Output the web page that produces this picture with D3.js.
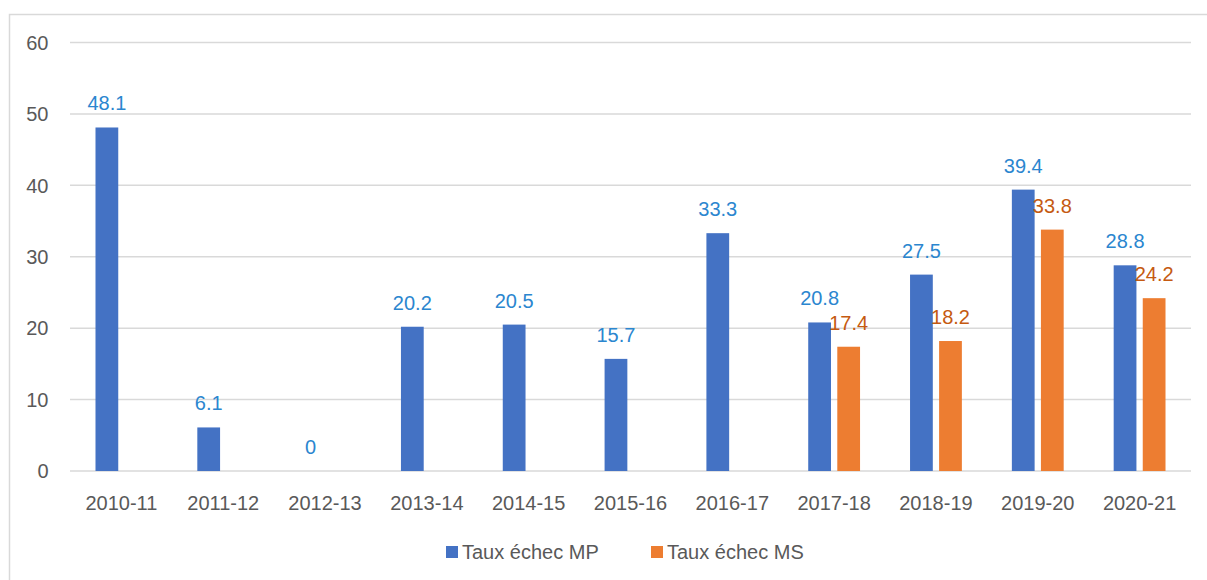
<!DOCTYPE html>
<html>
<head>
<meta charset="utf-8">
<script src="https://cdn.jsdelivr.net/npm/d3@7"></script>
<style>
  body { margin: 0; background: #fff; }
  text { font-family: "Liberation Sans", Arial, sans-serif; }
</style>
</head>
<body>
<div id="chart"></div>
<script>
// Data
let years = ["2010-11","2011-12","2012-13","2013-14","2014-15","2015-16","2016-17","2017-18","2018-19","2019-20","2020-21"];
let seriesNames = ["Taux échec MP", "Taux échec MS"];
let valuesMP = [48.1, 6.1, 0, 20.2, 20.5, 15.7, 33.3, 20.8, 27.5, 39.4, 28.8];
let valuesMS = [null, null, null, null, null, null, null, 17.4, 18.2, 33.8, 24.2];
let yTicks = [0, 10, 20, 30, 40, 50, 60];

// svg attributes
let svgWidth = 1207;
let svgHeight = 580;
let colors = ["#4472c4", "#ed7d31"];
let labelColors = ["#2b86cf", "#c55a11"];

let svg = d3.select("#chart")
  .append("svg")
  .attr("width", svgWidth)
  .attr("height", svgHeight);

svg.append("rect")
  .attr("width", svgWidth).attr("height", svgHeight)
  .attr("fill", "#fff");

// outer chart border (runs off the right / bottom edge)
svg.append("rect")
  .attr("x", 9.5).attr("y", 14.5)
  .attr("width", 1220).attr("height", 620)
  .attr("fill", "none")
  .attr("stroke", "#d9d9d9")
  .attr("stroke-width", 1.5);

// scales
let x = d3.scaleBand()
  .domain(years)
  .range([70.5, 1190.5]);

let xSub = d3.scaleBand()
  .domain([0, 1])
  .range([0, x.bandwidth()])
  .paddingInner(0.217)
  .paddingOuter(0.86);

let y = d3.scaleLinear()
  .domain([0, 60])
  .range([471, 42.5]);

// gridlines
svg.append("g")
  .selectAll("line")
  .data(yTicks)
  .enter()
  .append("line")
  .attr("x1", 70).attr("x2", 1191)
  .attr("y1", d => y(d)).attr("y2", d => y(d))
  .attr("stroke", "#d9d9d9")
  .attr("stroke-width", 1.5);

// y-axis labels
svg.append("g")
  .selectAll("text")
  .data(yTicks)
  .enter()
  .append("text")
  .attr("x", 48.5)
  .attr("y", d => y(d))
  .attr("dy", "0.36em")
  .attr("text-anchor", "end")
  .attr("font-size", 20)
  .attr("fill", "#595959")
  .text(d => d);

// category labels
svg.append("g")
  .selectAll("text")
  .data(years)
  .enter()
  .append("text")
  .attr("x", d => x(d) + x.bandwidth() / 2)
  .attr("y", 510)
  .attr("text-anchor", "middle")
  .attr("font-size", 20)
  .attr("fill", "#595959")
  .text(d => d);

// bars + data labels for each series
let allSeries = [valuesMP, valuesMS];
allSeries.forEach((vals, s) => {
  let rows = years.map((yr, i) => ({ yr: yr, v: vals[i] })).filter(d => d.v !== null);

  svg.append("g")
    .selectAll("rect")
    .data(rows)
    .enter()
    .append("rect")
    .attr("x", d => x(d.yr) + xSub(s))
    .attr("y", d => y(d.v))
    .attr("width", xSub.bandwidth())
    .attr("height", d => y(0) - y(d.v))
    .attr("fill", colors[s]);

  svg.append("g")
    .selectAll("text")
    .data(rows)
    .enter()
    .append("text")
    .attr("x", d => x(d.yr) + xSub(s) + xSub.bandwidth() / 2)
    .attr("y", d => y(d.v) - 17)
    .attr("text-anchor", "middle")
    .attr("font-size", 20)
    .attr("fill", labelColors[s])
    .text(d => d.v);
});

// legend
let legendX = [446, 651];
let legend = svg.append("g")
  .selectAll("g")
  .data(seriesNames)
  .enter()
  .append("g")
  .attr("transform", (d, i) => `translate(${legendX[i]},546)`);

legend.append("rect")
  .attr("width", 12).attr("height", 12)
  .attr("fill", (d, i) => colors[i]);

legend.append("text")
  .attr("x", 16)
  .attr("y", 6)
  .attr("dy", "0.36em")
  .attr("font-size", 20)
  .attr("fill", "#595959")
  .text(d => d);
</script>
</body>
</html>
